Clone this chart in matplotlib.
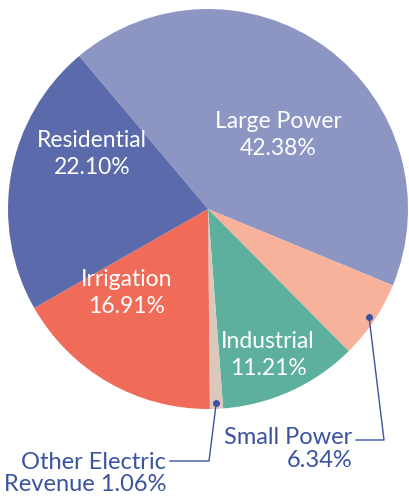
import matplotlib.pyplot as plt
import numpy as np

plt.rcParams['font.family'] = ['Lato', 'DejaVu Sans']

# revenue shares (%), clockwise from the upper left
categories = ['Large Power', 'Small Power', 'Industrial',
              'Other Electric Revenue', 'Irrigation', 'Residential']
shares = [42.38, 6.34, 11.21, 1.06, 16.91, 22.10]
colors = ['#8d95c3', '#f8b29c', '#5cb09d', '#d9c9bc', '#f06c58', '#5b6aab']

label_blue = '#3a52a0'


def main() -> None:
    fig = plt.figure(figsize=(4.10, 4.96), dpi=100)
    ax = fig.add_axes([0, 0, 1, 1])
    wedges, _ = ax.pie(shares, colors=colors, startangle=130.1,
                       counterclock=False, radius=1.0, center=(0, 0))
    ax.set_xlim(-1.04, 1.01)
    ax.set_ylim(-1.435, 1.045)
    ax.set_aspect('equal')
    ax.axis('off')

    # labels inside the slices
    inside = {
        'Large Power': (0.35, 0.37),
        'Industrial': (0.30, -0.73),
        'Irrigation': (-0.405, -0.42),
        'Residential': (-0.58, 0.275),
    }
    for name, (x, y) in inside.items():
        v = shares[categories.index(name)]
        ax.text(x, y, f'{name}\n{v:.2f}%', color='white', fontsize=16.5,
                ha='center', va='center', linespacing=1.3)

    # callouts for the thin slices
    callouts = [
        ('Small Power', 'Small Power\n6.34%',
         (0.88, -1.155), (0.74, -1.155), (0.72, -1.2)),
        ('Other Electric Revenue', 'Other Electric\nRevenue 1.06%',
         (0.005, -1.26), (-0.19, -1.26), (-0.21, -1.3225)),
    ]
    for name, txt, bend, end, tpos in callouts:
        w = wedges[categories.index(name)]
        a = np.deg2rad((w.theta1 + w.theta2) / 2)
        px, py = 0.97 * np.cos(a), 0.97 * np.sin(a)
        ax.plot([px, bend[0], end[0]], [py, bend[1], end[1]],
                color=label_blue, lw=1.0)
        ax.plot(px, py, 'o', color=label_blue, ms=4)
        ax.text(tpos[0], tpos[1], txt, color=label_blue, fontsize=17,
                ha='right', va='center', multialignment='right',
                linespacing=1.1)

    fig.savefig('out.png', dpi=100)


if __name__ == '__main__':
    main()
